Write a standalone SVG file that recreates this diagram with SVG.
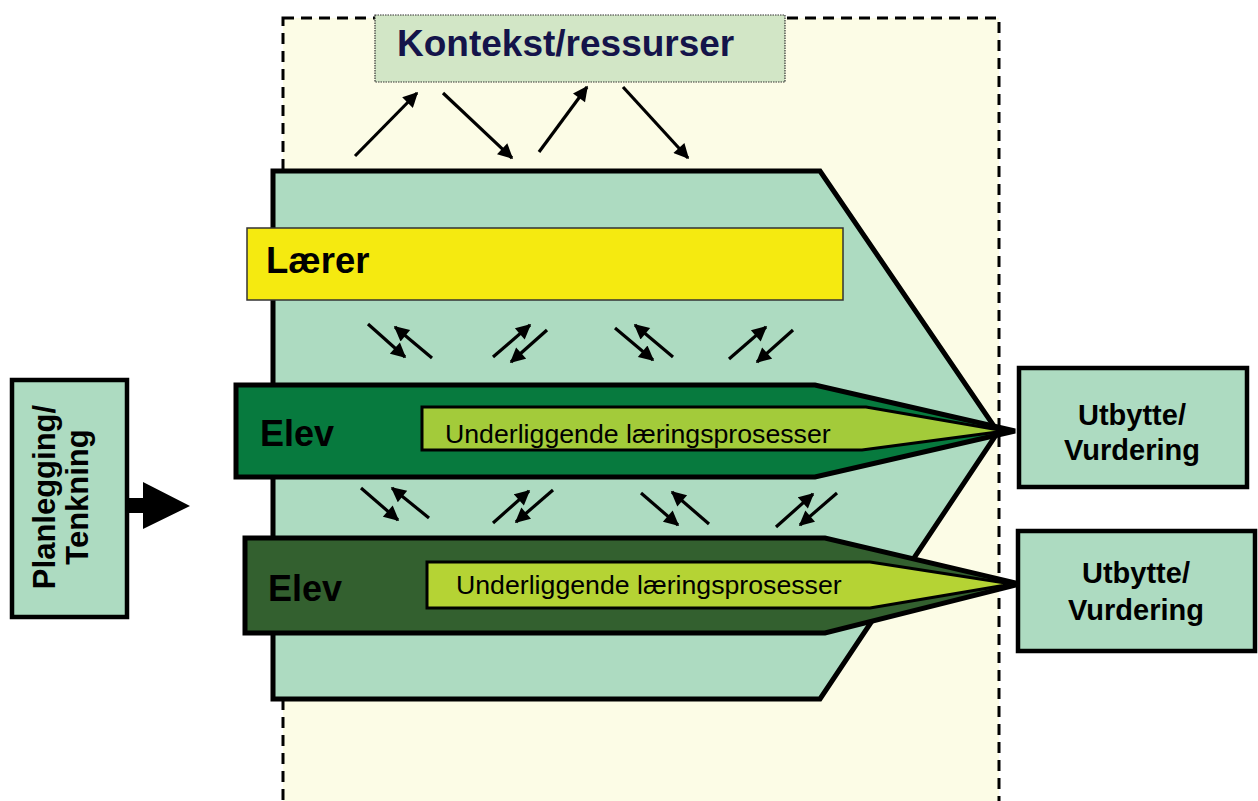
<svg xmlns="http://www.w3.org/2000/svg" width="1258" height="801" viewBox="0 0 1258 801">
  <style>
    .bold { font-family: "Liberation Sans", Arial, sans-serif; font-weight: bold; fill: #000; }
    .reg { font-family: "Liberation Sans", Arial, sans-serif; fill: #000; }
    .box { fill: #ADDBC1; stroke: #000; stroke-width: 4.5; }
    .link { stroke: #000; stroke-width: 3.2; fill: none; marker-end: url(#head); }
  </style>
  <defs>
    <marker id="head" viewBox="0 0 10 10" refX="9" refY="5" markerWidth="17" markerHeight="15" markerUnits="userSpaceOnUse" orient="auto">
      <path d="M0,0 L10,5 L0,10 Z" fill="#000"/>
    </marker>
  </defs>

  <rect width="1258" height="801" fill="#fff"/>

  <!-- learning environment frame -->
  <g id="frame">
    <rect x="283" y="18" width="716" height="800" fill="#FCFCE6" stroke="#000" stroke-width="3" stroke-dasharray="11 7"/>
  </g>

  <!-- context / resources -->
  <g id="kontekst">
    <rect x="375" y="15" width="410" height="67" fill="#D2E6C6" stroke="#333" stroke-width="1.2" stroke-dasharray="1.5 1"/>
    <text x="397" y="56" class="bold" font-size="37" style="fill:#14144A">Kontekst/ressurser</text>
  </g>

  <!-- classroom shape -->
  <g id="klasserom">
    <polygon points="273,171 820,171 998,432 820,699 273,699" fill="#ADDBC1" stroke="#000" stroke-width="5" stroke-linejoin="miter"/>
  </g>

  <!-- teacher -->
  <g id="laerer">
    <rect x="247" y="228" width="596" height="72" fill="#F5EA10" stroke="#333" stroke-width="1.5"/>
    <text x="266" y="273" class="bold" font-size="36.5">Lærer</text>
  </g>

  <!-- pupil 1 -->
  <g id="elev1">
    <polygon points="236,385 815,385 1015,431 815,477 236,477" fill="#077A3E" stroke="#000" stroke-width="5" stroke-linejoin="miter"/>
    <polygon points="422,407 866,407 1005,431 862,450 422,450" fill="#A3CB3A" stroke="#000" stroke-width="3"/>
    <text x="260" y="446" class="bold" font-size="36">Elev</text>
    <text x="445" y="443" class="reg" font-size="26.7">Underliggende læringsprosesser</text>
  </g>

  <!-- pupil 2 -->
  <g id="elev2">
    <polygon points="245,538 825,538 1020,584 825,633 245,633" fill="#33602F" stroke="#000" stroke-width="5" stroke-linejoin="miter"/>
    <polygon points="427,562 870,562 1012,584 870,608 427,608" fill="#B5D334" stroke="#000" stroke-width="3"/>
    <text x="268" y="601" class="bold" font-size="36">Elev</text>
    <text x="456" y="594" class="reg" font-size="26.7">Underliggende læringsprosesser</text>
  </g>

  <!-- planning -->
  <g id="planlegging">
    <rect x="12" y="380" width="115" height="237" class="box"/>
    <text transform="translate(55,497) rotate(-90)" text-anchor="middle" class="bold" font-size="31">Planlegging/</text>
    <text transform="translate(88,497) rotate(-90)" text-anchor="middle" class="bold" font-size="31">Tenkning</text>
  </g>

  <!-- outcomes -->
  <g id="utbytte1">
    <rect x="1019" y="368" width="228" height="119" class="box"/>
    <text x="1132" y="425" text-anchor="middle" class="bold" font-size="29">Utbytte/</text>
    <text x="1132" y="460" text-anchor="middle" class="bold" font-size="29">Vurdering</text>
  </g>
  <g id="utbytte2">
    <rect x="1018" y="531" width="237" height="120" class="box"/>
    <text x="1136" y="583" text-anchor="middle" class="bold" font-size="29">Utbytte/</text>
    <text x="1136" y="620" text-anchor="middle" class="bold" font-size="29">Vurdering</text>
  </g>

  <!-- connectors -->
  <g id="connectors">
    <!-- planning into the classroom -->
    <polygon points="128,498 143,498 143,482 190,506 143,529 143,513 128,513" fill="#000"/>

    <!-- context exchange -->
    <line x1="355" y1="156" x2="417" y2="93" class="link"/>
    <line x1="443" y1="93" x2="512" y2="158" class="link"/>
    <line x1="539" y1="152" x2="587" y2="87" class="link"/>
    <line x1="623" y1="87" x2="688" y2="158" class="link"/>

    <!-- teacher / pupil 1 -->
    <line x1="368" y1="324" x2="405" y2="357" class="link"/>
    <line x1="432" y1="358" x2="395" y2="327" class="link"/>
    <line x1="493" y1="357" x2="530" y2="325" class="link"/>
    <line x1="547" y1="330" x2="511" y2="362" class="link"/>
    <line x1="615" y1="328" x2="653" y2="360" class="link"/>
    <line x1="673" y1="357" x2="635" y2="325" class="link"/>
    <line x1="729" y1="359" x2="766" y2="327" class="link"/>
    <line x1="793" y1="330" x2="757" y2="362" class="link"/>

    <!-- pupil 1 / pupil 2 -->
    <line x1="361" y1="488" x2="398" y2="520" class="link"/>
    <line x1="429" y1="518" x2="392" y2="488" class="link"/>
    <line x1="493" y1="523" x2="529" y2="491" class="link"/>
    <line x1="553" y1="490" x2="516" y2="522" class="link"/>
    <line x1="641" y1="493" x2="678" y2="525" class="link"/>
    <line x1="709" y1="524" x2="672" y2="492" class="link"/>
    <line x1="776" y1="527" x2="813" y2="494" class="link"/>
    <line x1="837" y1="493" x2="800" y2="525" class="link"/>
  </g>
</svg>
